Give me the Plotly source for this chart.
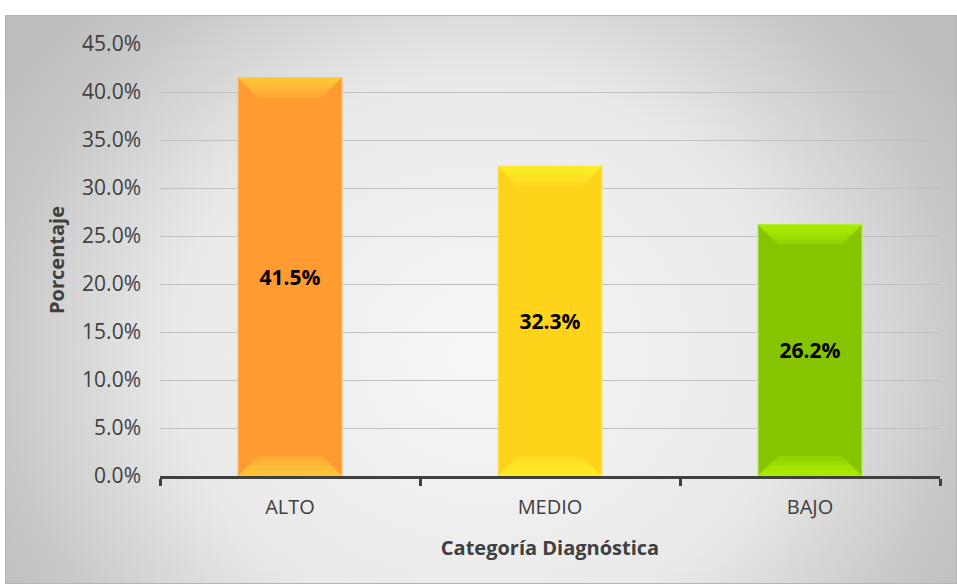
import base64
import plotly.graph_objects as go

# Diagnostic categories and their share of cases (%)
categories = ["ALTO", "MEDIO", "BAJO"]
percentages = [41.5, 32.3, 26.2]
body_colors = ["#FF9B30", "#FFD31A", "#86C400"]
bevel_colors = ["#FFD23A", "#FFF22A", "#B4F500"]
edge_colors = ["#FFC070", "#FFE870", "#B8E860"]

y_ticks = [0, 5, 10, 15, 20, 25, 30, 35, 40, 45]
y_tick_labels = [f"{v:.1f}%" for v in y_ticks]

W, H = 957, 584
M_L, M_R, M_T, M_B = 160, 17, 44, 108
BAR_W = 0.4

# Soft radial background for the chart panel
svg = f"""<svg xmlns='http://www.w3.org/2000/svg' width='952' height='569' viewBox='0 0 952 569'>
<defs><radialGradient id='g' gradientUnits='userSpaceOnUse' cx='476' cy='340' r='560'
 gradientTransform='translate(476 340) scale(1 0.9) translate(-476 -340)'>
<stop offset='0' stop-color='#f7f7f7'/><stop offset='0.55' stop-color='#e9e9e9'/>
<stop offset='0.85' stop-color='#c9c9c9'/><stop offset='1' stop-color='#bdbdbd'/>
</radialGradient></defs>
<rect x='0' y='0' width='952' height='569' fill='url(#g)'/>
<rect x='0.5' y='0.5' width='951' height='568' fill='none' stroke='#b5b5b5' stroke-width='1'/>
</svg>"""
bg_src = "data:image/svg+xml;base64," + base64.b64encode(svg.encode()).decode()

plot_w = W - M_L - M_R
plot_h = H - M_T - M_B

fig = go.Figure()
fig.add_trace(go.Bar(
    x=categories,
    y=percentages,
    width=BAR_W,
    marker=dict(color=body_colors, line=dict(color=edge_colors, width=1.2)),
    text=[f"{p:.1f}%" for p in percentages],
    textposition="inside",
    insidetextanchor="middle",
    textangle=0,
    textfont=dict(family="Open Sans", size=21, color="#000000", weight="bold"),
    hoverinfo="skip",
))

# Bevelled top and bottom bands of each bar, layered for a soft fade
y_per_px = 45.0 / plot_h
x_per_px = 3.0 / plot_w
shapes = []
for i, (p, bc) in enumerate(zip(percentages, bevel_colors)):
    x0, x1 = i - BAR_W / 2, i + BAR_W / 2
    for k in (1, 2, 3, 4):
        d = 20 * k / 4
        dy = d * y_per_px
        dx = d * x_per_px
        top = f"M {x0} {p} L {x1} {p} L {x1 - dx} {p - dy} L {x0 + dx} {p - dy} Z"
        bot = f"M {x0} 0 L {x1} 0 L {x1 - dx} {dy} L {x0 + dx} {dy} Z"
        for path in (top, bot):
            shapes.append(dict(type="path", path=path, xref="x", yref="y",
                               fillcolor=bc, opacity=0.3, line=dict(width=0),
                               layer="above"))

fig.update_layout(
    width=W, height=H,
    margin=dict(l=M_L, r=M_R, t=M_T, b=M_B),
    paper_bgcolor="white",
    plot_bgcolor="rgba(0,0,0,0)",
    showlegend=False,
    shapes=shapes,
    images=[dict(
        source=bg_src, xref="paper", yref="paper",
        x=-(M_L - 5) / plot_w, y=(H - 15 - M_B) / plot_h,
        sizex=(W - 5) / plot_w, sizey=(H - 15) / plot_h,
        xanchor="left", yanchor="top", sizing="stretch", layer="below",
    )],
    font=dict(family="Open Sans", color="#404040"),
    xaxis=dict(
        type="category",
        range=[-0.5, 2.5],
        showline=True, linecolor="#404040", linewidth=3,
        ticks="outside", tickson="boundaries", ticklen=7, tickwidth=3,
        tickcolor="#404040",
        tickfont=dict(size=20, color="#404040"),
        ticklabelstandoff=11,
        showgrid=False,
        title=dict(text="Categoría Diagnóstica", standoff=22,
                   font=dict(size=20, color="#404040", weight="bold")),
    ),
    yaxis=dict(
        range=[0, 45],
        tickvals=y_ticks, ticktext=y_tick_labels,
        tickfont=dict(size=21, color="#404040"),
        ticklabelstandoff=18,
        showgrid=True, gridcolor="#C0C0C0", gridwidth=1,
        zeroline=False, showline=False,
        title=dict(text="Porcentaje", standoff=12,
                   font=dict(size=20, color="#404040", weight="bold")),
    ),
)

fig.write_html("out.html")
